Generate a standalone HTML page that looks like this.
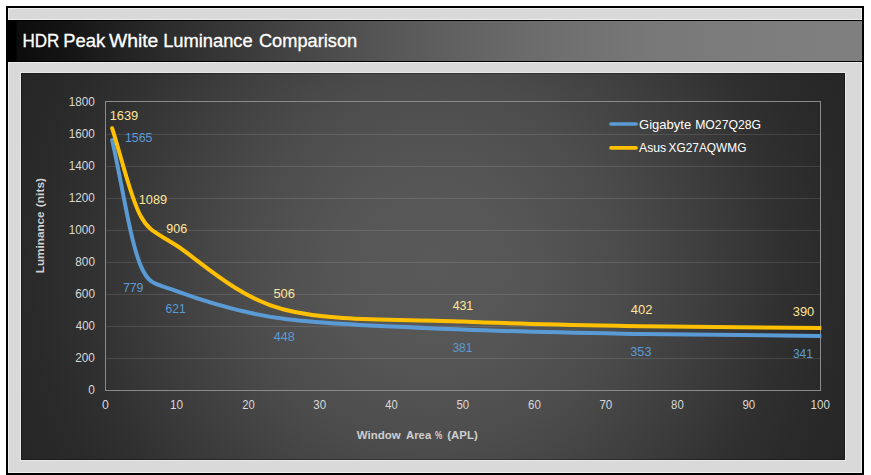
<!DOCTYPE html>
<html><head><meta charset="utf-8">
<style>
html,body{margin:0;padding:0;background:#fff;}
body{width:871px;height:475px;overflow:hidden;position:relative;font-family:"Liberation Sans",sans-serif;}
#frame{position:absolute;left:6px;top:6px;width:854px;height:465px;border:2px solid #000;background:#d9d9d9;box-shadow:inset 0 0 0 1px #ececec;}
#title{position:absolute;left:8px;top:20px;width:854px;height:40px;border-top:1px solid #000;border-bottom:1px solid #000;background:linear-gradient(to right,rgb(0,0,0) 0.0px,rgb(0,0,0) 8.4px,rgb(12,12,12) 8.6px,rgb(20,20,20) 58.0px,rgb(29,29,29) 92.0px,rgb(42,42,42) 150.0px,rgb(54,54,54) 214.0px,rgb(70,70,70) 292.0px,rgb(83,83,83) 360.0px,rgb(94,94,94) 427.0px,rgb(109,109,109) 534.0px,rgb(120,120,120) 642.0px,rgb(125,125,125) 748.0px,rgb(127,127,127) 854.0px);box-shadow:0 -1px 0 #ececec,0 1px 0 #ececec;}
#chart{position:absolute;left:21px;top:73px;width:824px;height:387px;background:radial-gradient(circle 455px at 412px 193.5px,rgb(89,89,89) 0.0px,rgb(88,88,88) 50.0px,rgb(85,85,85) 100.0px,rgb(80,80,80) 150.0px,rgb(76,76,76) 186.0px,rgb(72,72,72) 212.0px,rgb(64,64,64) 260.0px,rgb(56,56,56) 307.0px,rgb(48,48,48) 350.0px,rgb(42,42,42) 400.0px,rgb(38,38,38) 455.0px);box-shadow:0 0 0 1px #e8e8e8,inset 0 0 0 1px rgba(0,0,0,0.3);}
svg{position:absolute;left:0;top:0;font-family:"Liberation Sans",sans-serif;}
</style></head><body>
<div id="frame"></div>
<div id="title"></div>
<div id="chart"></div>
<svg width="871" height="475" viewBox="0 0 871 475">
<defs><clipPath id="cp"><rect x="100" y="95" width="721.4" height="300"/></clipPath></defs>
<line x1="106" y1="358.5" x2="820" y2="358.5" stroke="rgba(255,255,255,0.11)" stroke-width="1"/>
<line x1="106" y1="326.5" x2="820" y2="326.5" stroke="rgba(255,255,255,0.11)" stroke-width="1"/>
<line x1="106" y1="294.5" x2="820" y2="294.5" stroke="rgba(255,255,255,0.11)" stroke-width="1"/>
<line x1="106" y1="262.5" x2="820" y2="262.5" stroke="rgba(255,255,255,0.11)" stroke-width="1"/>
<line x1="106" y1="230.5" x2="820" y2="230.5" stroke="rgba(255,255,255,0.11)" stroke-width="1"/>
<line x1="106" y1="198.5" x2="820" y2="198.5" stroke="rgba(255,255,255,0.11)" stroke-width="1"/>
<line x1="106" y1="166.5" x2="820" y2="166.5" stroke="rgba(255,255,255,0.11)" stroke-width="1"/>
<line x1="106" y1="134.5" x2="820" y2="134.5" stroke="rgba(255,255,255,0.11)" stroke-width="1"/>

<rect x="105.5" y="101.5" width="715" height="289" fill="none" stroke="#8a8a8a" stroke-width="1"/>
<g clip-path="url(#cp)">
<path d="M112.16 140.10 C121.70 182.02 130.04 240.69 140.78 265.86 C149.37 286.01 156.01 283.54 176.55 291.14 C200.40 299.97 236.18 312.42 283.88 318.82 C331.57 325.22 403.12 327.01 462.75 329.54 C522.38 332.07 582.00 332.95 641.62 334.02 C701.25 335.09 760.88 335.30 820.50 335.94" fill="none" stroke="#5b9bd5" stroke-width="4" stroke-linecap="round" stroke-linejoin="round"/>
<path d="M112.16 128.26 C121.70 157.59 130.04 196.71 140.78 216.26 C149.49 232.13 157.19 232.92 176.55 245.54 C200.40 261.09 236.18 296.87 283.88 309.54 C331.57 322.21 403.12 318.77 462.75 321.54 C522.38 324.31 582.00 325.09 641.62 326.18 C701.25 327.27 760.88 327.46 820.50 328.10" fill="none" stroke="#ffc000" stroke-width="4" stroke-linecap="round" stroke-linejoin="round"/>
</g>
<line x1="611" y1="124" x2="636" y2="124" stroke="#5b9bd5" stroke-width="3.7" stroke-linecap="round"/>
<line x1="611" y1="147.8" x2="636" y2="147.8" stroke="#ffc000" stroke-width="3.7" stroke-linecap="round"/>
<text x="22.39" y="47.3" font-size="18.67px" stroke="#fff" stroke-width="0.3" textLength="36.93" lengthAdjust="spacingAndGlyphs" fill="#ffffff">HDR</text>
<text x="63.16" y="47.3" font-size="18.67px" stroke="#fff" stroke-width="0.3" textLength="41.99" lengthAdjust="spacingAndGlyphs" fill="#ffffff">Peak</text>
<text x="108.91" y="47.3" font-size="18.67px" stroke="#fff" stroke-width="0.3" textLength="49.45" lengthAdjust="spacingAndGlyphs" fill="#ffffff">White</text>
<text x="163.13" y="47.3" font-size="18.67px" stroke="#fff" stroke-width="0.3" textLength="89.55" lengthAdjust="spacingAndGlyphs" fill="#ffffff">Luminance</text>
<text x="258.96" y="47.3" font-size="18.67px" stroke="#fff" stroke-width="0.3" textLength="98.30" lengthAdjust="spacingAndGlyphs" fill="#ffffff">Comparison</text>
<text x="639.12" y="129.0" font-size="13px" textLength="52.03" lengthAdjust="spacingAndGlyphs" fill="#ffffff">Gigabyte</text>
<text x="695.15" y="129.0" font-size="13px" textLength="65.94" lengthAdjust="spacingAndGlyphs" fill="#ffffff">MO27Q28G</text>
<text x="639.01" y="152.4" font-size="13px" textLength="27.21" lengthAdjust="spacingAndGlyphs" fill="#ffffff">Asus</text>
<text x="668.52" y="152.4" font-size="13px" textLength="77.86" lengthAdjust="spacingAndGlyphs" fill="#ffffff">XG27AQWMG</text>
<text x="356.75" y="439.3" font-size="11px" font-weight="bold" textLength="43.83" lengthAdjust="spacingAndGlyphs" fill="#cfcfcf">Window</text>
<text x="406.10" y="439.3" font-size="11px" font-weight="bold" textLength="25.06" lengthAdjust="spacingAndGlyphs" fill="#cfcfcf">Area</text>
<text x="435.11" y="439.3" font-size="11px" font-weight="bold" textLength="7.35" lengthAdjust="spacingAndGlyphs" fill="#cfcfcf">%</text>
<text x="447.27" y="439.3" font-size="11px" font-weight="bold" textLength="30.53" lengthAdjust="spacingAndGlyphs" fill="#cfcfcf">(APL)</text>
<text x="109.66" y="120.0" font-size="12.6px" textLength="28.54" lengthAdjust="spacingAndGlyphs" fill="#ffe699">1639</text>
<text x="125.01" y="141.8" font-size="12.6px" textLength="27.51" lengthAdjust="spacingAndGlyphs" fill="#5b9bd5">1565</text>
<text x="138.76" y="204.0" font-size="12.6px" textLength="28.37" lengthAdjust="spacingAndGlyphs" fill="#ffe699">1089</text>
<text x="166.35" y="232.8" font-size="12.6px" textLength="20.93" lengthAdjust="spacingAndGlyphs" fill="#ffe699">906</text>
<text x="122.88" y="291.8" font-size="12.6px" textLength="20.57" lengthAdjust="spacingAndGlyphs" fill="#5b9bd5">779</text>
<text x="165.57" y="313.0" font-size="12.6px" textLength="20.04" lengthAdjust="spacingAndGlyphs" fill="#5b9bd5">621</text>
<text x="273.42" y="298.0" font-size="12.6px" textLength="21.55" lengthAdjust="spacingAndGlyphs" fill="#ffe699">506</text>
<text x="273.72" y="341.2" font-size="12.6px" textLength="20.96" lengthAdjust="spacingAndGlyphs" fill="#5b9bd5">448</text>
<text x="452.65" y="310.0" font-size="12.6px" textLength="20.60" lengthAdjust="spacingAndGlyphs" fill="#ffe699">431</text>
<text x="452.53" y="352.0" font-size="12.6px" textLength="19.82" lengthAdjust="spacingAndGlyphs" fill="#5b9bd5">381</text>
<text x="630.81" y="314.0" font-size="12.6px" textLength="21.66" lengthAdjust="spacingAndGlyphs" fill="#ffe699">402</text>
<text x="630.32" y="356.0" font-size="12.6px" textLength="21.16" lengthAdjust="spacingAndGlyphs" fill="#5b9bd5">353</text>
<text x="792.76" y="316.4" font-size="12.6px" textLength="21.42" lengthAdjust="spacingAndGlyphs" fill="#ffe699">390</text>
<text x="792.89" y="358.1" font-size="12.6px" textLength="19.97" lengthAdjust="spacingAndGlyphs" fill="#5b9bd5">341</text>
<text x="88.26" y="393.9" font-size="12px" textLength="6.61" lengthAdjust="spacingAndGlyphs" fill="#d9d9d9">0</text>
<text x="75.14" y="361.9" font-size="12px" textLength="19.66" lengthAdjust="spacingAndGlyphs" fill="#d9d9d9">200</text>
<text x="75.74" y="329.9" font-size="12px" textLength="19.19" lengthAdjust="spacingAndGlyphs" fill="#d9d9d9">400</text>
<text x="75.27" y="297.9" font-size="12px" textLength="19.70" lengthAdjust="spacingAndGlyphs" fill="#d9d9d9">600</text>
<text x="75.32" y="265.9" font-size="12px" textLength="19.64" lengthAdjust="spacingAndGlyphs" fill="#d9d9d9">800</text>
<text x="68.82" y="233.9" font-size="12px" textLength="26.05" lengthAdjust="spacingAndGlyphs" fill="#d9d9d9">1000</text>
<text x="68.82" y="201.9" font-size="12px" textLength="26.05" lengthAdjust="spacingAndGlyphs" fill="#d9d9d9">1200</text>
<text x="68.82" y="169.9" font-size="12px" textLength="26.05" lengthAdjust="spacingAndGlyphs" fill="#d9d9d9">1400</text>
<text x="68.82" y="137.9" font-size="12px" textLength="26.05" lengthAdjust="spacingAndGlyphs" fill="#d9d9d9">1600</text>
<text x="68.82" y="105.9" font-size="12px" textLength="26.05" lengthAdjust="spacingAndGlyphs" fill="#d9d9d9">1800</text>
<text x="102.10" y="409.0" font-size="12px" textLength="6.85" lengthAdjust="spacingAndGlyphs" fill="#d9d9d9">0</text>
<text x="170.06" y="409.0" font-size="12px" textLength="13.11" lengthAdjust="spacingAndGlyphs" fill="#d9d9d9">10</text>
<text x="242.17" y="409.0" font-size="12px" textLength="12.50" lengthAdjust="spacingAndGlyphs" fill="#d9d9d9">20</text>
<text x="313.36" y="409.0" font-size="12px" textLength="12.85" lengthAdjust="spacingAndGlyphs" fill="#d9d9d9">30</text>
<text x="385.35" y="409.0" font-size="12px" textLength="12.43" lengthAdjust="spacingAndGlyphs" fill="#d9d9d9">40</text>
<text x="456.40" y="409.0" font-size="12px" textLength="12.73" lengthAdjust="spacingAndGlyphs" fill="#d9d9d9">50</text>
<text x="528.00" y="409.0" font-size="12px" textLength="12.80" lengthAdjust="spacingAndGlyphs" fill="#d9d9d9">60</text>
<text x="599.40" y="409.0" font-size="12px" textLength="12.93" lengthAdjust="spacingAndGlyphs" fill="#d9d9d9">70</text>
<text x="671.05" y="409.0" font-size="12px" textLength="12.68" lengthAdjust="spacingAndGlyphs" fill="#d9d9d9">80</text>
<text x="742.43" y="409.0" font-size="12px" textLength="12.76" lengthAdjust="spacingAndGlyphs" fill="#d9d9d9">90</text>
<text x="810.58" y="409.0" font-size="12px" textLength="19.35" lengthAdjust="spacingAndGlyphs" fill="#d9d9d9">100</text>
<text transform="translate(44,300) rotate(-90)" x="26.78" y="0" font-size="11px" font-weight="bold" textLength="61.85" lengthAdjust="spacingAndGlyphs" fill="#cfcfcf">Luminance</text>
<text transform="translate(44,300) rotate(-90)" x="92.83" y="0" font-size="11px" font-weight="bold" textLength="29.18" lengthAdjust="spacingAndGlyphs" fill="#cfcfcf">(nits)</text>

</svg>
</body></html>
